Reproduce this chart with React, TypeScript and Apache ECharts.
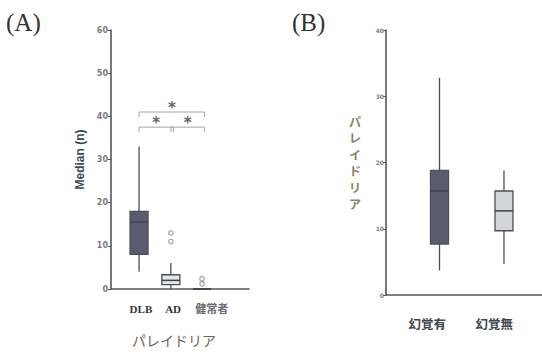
import React, { useEffect, useRef } from 'react';
import * as echarts from 'echarts';

// ---------- data ----------
const groupsA = ['DLB', 'AD', '健常者'];
// [min, Q1, median, Q3, max]
const boxA = [
  [4, 8, 15.5, 18, 33],
  [0, 1, 2, 3.3, 6],
  [0, 0, 0, 0, 0],
];
// [groupIndex, value]
const outliersA = [
  [1, 11],
  [1, 13],
  [2, 1.2],
  [2, 2.4],
];
// [fromGroup, toGroup, level]
const bracketsA = [
  [0, 2, 41],
  [0, 1, 37.5],
  [1, 2, 37.5],
];
const yMaxA = 60;
const yStepA = 10;

const groupsB = ['幻覚有', '幻覚無'];
const boxB = [
  [3.7, 7.7, 15.7, 18.8, 32.8],
  [4.7, 9.7, 12.7, 15.7, 18.8],
];
const yMaxB = 40;
const yStepB = 10;

// ---------- layout (not data) ----------
const posA = [0.89, 1.9, 2.89];
const labelPosA = [0.95, 1.97, 3.2];
const posB = [0.83, 1.83];
const labelPosB = [0.64, 1.68];
const boxFill = ['#595c6e', '#e4e6ec', '#e4e6ec'];
const boxFillB = ['#595c6e', '#d3d5db'];

function boxRender(widthPx: number, fills: string[]) {
  return (params: any, api: any) => {
    const x = api.value(0);
    const pMin = api.coord([x, api.value(1)]);
    const pQ1 = api.coord([x, api.value(2)]);
    const pMed = api.coord([x, api.value(3)]);
    const pQ3 = api.coord([x, api.value(4)]);
    const pMax = api.coord([x, api.value(5)]);
    const cx = pMed[0];
    const h = widthPx / 2;
    const stroke = '#4d4f58';
    return {
      type: 'group',
      children: [
        { type: 'line', shape: { x1: cx, y1: pMax[1], x2: cx, y2: pQ3[1] }, style: { stroke, lineWidth: 1.3 } },
        { type: 'line', shape: { x1: cx, y1: pQ1[1], x2: cx, y2: pMin[1] }, style: { stroke, lineWidth: 1.3 } },
        {
          type: 'rect',
          shape: { x: cx - h, y: pQ3[1], width: widthPx, height: pQ1[1] - pQ3[1] },
          style: { fill: fills[params.dataIndex], stroke, lineWidth: 1.3 },
        },
        { type: 'line', shape: { x1: cx - h, y1: pMed[1], x2: cx + h, y2: pMed[1] }, style: { stroke: '#3f414a', lineWidth: 1.5 } },
      ],
    };
  };
}

function labelRender(names: string[], dy: number, font: string, colors: string[]) {
  return (params: any, api: any) => {
    const p = api.coord([api.value(0), 0]);
    return {
      type: 'text',
      x: p[0],
      y: p[1] + dy,
      style: {
        text: names[params.dataIndex],
        fill: colors[params.dataIndex],
        font,
        align: 'center',
        verticalAlign: 'middle',
        textAlign: 'center',
        textVerticalAlign: 'middle',
      },
    };
  };
}

function bracketRender(params: any, api: any) {
  const a = api.coord([api.value(0), api.value(2)]);
  const b = api.coord([api.value(1), api.value(2)]);
  const drop = 5;
  return {
    type: 'polyline',
    shape: { points: [[a[0], a[1] + drop], [a[0], a[1]], [b[0], b[1]], [b[0], b[1] + drop]] },
    style: { stroke: '#a6a6aa', lineWidth: 1, fill: 'none' },
  };
}

function starRender(params: any, api: any) {
  const a = api.coord([api.value(0), api.value(2)]);
  const b = api.coord([api.value(1), api.value(2)]);
  return {
    type: 'text',
    x: (a[0] + b[0]) / 2,
    y: a[1] + 3,
    style: {
      text: '*',
      fill: '#666666',
      font: 'bold 15px "DejaVu Sans"',
      align: 'center',
      verticalAlign: 'bottom',
      textAlign: 'center',
      textVerticalAlign: 'bottom',
    },
  };
}

export default function App() {
  const ref = useRef<HTMLDivElement>(null);
  useEffect(() => {
    if (!ref.current) return;
    const chart = echarts.init(ref.current, undefined, { renderer: 'svg' });
    const axisColor = '#55565c';
    const bracketData = bracketsA.map((b) => [posA[b[0]], posA[b[1]] + 0.08, b[2]]);
    const option: any = {
      animation: false,
      backgroundColor: '#ffffff',
      graphic: [
        { type: 'text', left: 6, top: 10, style: { text: '(A)', fill: '#333', font: '25px "Liberation Serif"' } },
        { type: 'text', left: 292, top: 10, style: { text: '(B)', fill: '#333', font: '25px "Liberation Serif"' } },
      ],
      grid: [
        { left: 111, top: 30, width: 138, height: 270 },
        { left: 386, top: 30, width: 160, height: 265 },
      ],
      xAxis: [
        {
          gridIndex: 0,
          type: 'value',
          min: 0,
          max: 4.38,
          axisLine: { show: true, onZero: false, lineStyle: { color: axisColor, width: 1.6 } },
          axisTick: { show: false },
          axisLabel: { show: false },
          splitLine: { show: false },
          name: 'パレイドリア',
          nameLocation: 'middle',
          nameGap: 44,
          nameTextStyle: {
            fontSize: 14,
            color: '#6e6553',
            fontFamily: '"Noto Sans CJK JP"',
            padding: [0, 12, 0, 0],
          },
        },
        {
          gridIndex: 1,
          type: 'value',
          min: 0,
          max: 2.42,
          axisLine: { show: true, onZero: false, lineStyle: { color: axisColor, width: 1.6 } },
          axisTick: { show: false },
          axisLabel: { show: false },
          splitLine: { show: false },
        },
      ],
      yAxis: [
        {
          gridIndex: 0,
          type: 'value',
          min: 0,
          max: yMaxA,
          interval: yStepA,
          axisLine: { show: true, lineStyle: { color: axisColor, width: 1.6 } },
          axisTick: { show: true, length: 3, lineStyle: { color: axisColor } },
          axisLabel: { fontSize: 8, fontWeight: 'bold', color: '#7a7a80', margin: 3, fontFamily: '"DejaVu Sans"' },
          splitLine: { show: false },
          name: 'Median (n)',
          nameLocation: 'middle',
          nameRotate: 90,
          nameGap: 25,
          nameTextStyle: {
            fontSize: 12,
            fontWeight: 'bold',
            color: '#3e4659',
            fontFamily: '"Liberation Sans"',
          },
        },
        {
          gridIndex: 1,
          type: 'value',
          min: 0,
          max: yMaxB,
          interval: yStepB,
          axisLine: { show: true, lineStyle: { color: axisColor, width: 1.6 } },
          axisTick: { show: true, length: 3, lineStyle: { color: axisColor } },
          axisLabel: { fontSize: 6, fontWeight: 'bold', color: '#7e7e84', margin: 2, fontFamily: '"DejaVu Sans"' },
          splitLine: { show: false },
          name: 'パレイドリア'.split('').join('\n'),
          nameLocation: 'middle',
          nameRotate: 0,
          nameGap: 25,
          nameTextStyle: {
            fontSize: 12,
            lineHeight: 16.5,
            fontWeight: 'bold',
            color: '#8b7f63',
            fontFamily: '"Noto Sans CJK JP"',
          },
        },
      ],
      series: [
        {
          type: 'custom',
          xAxisIndex: 0,
          yAxisIndex: 0,
          renderItem: boxRender(18, boxFill),
          encode: { x: 0, y: [1, 2, 3, 4, 5] },
          data: boxA.map((b, i) => [posA[i], ...b]),
          z: 3,
        },
        {
          type: 'scatter',
          xAxisIndex: 0,
          yAxisIndex: 0,
          symbol: 'circle',
          symbolSize: 4.5,
          itemStyle: { color: '#ffffff', borderColor: '#8a8a92', borderWidth: 1.2 },
          data: outliersA.map((o) => [posA[o[0]], o[1]]),
          z: 4,
        },
        {
          type: 'custom',
          xAxisIndex: 0,
          yAxisIndex: 0,
          renderItem: bracketRender,
          encode: { x: [0, 1], y: 2 },
          data: bracketData,
          z: 3,
        },
        {
          type: 'custom',
          xAxisIndex: 0,
          yAxisIndex: 0,
          renderItem: starRender,
          encode: { x: [0, 1], y: 2 },
          data: bracketData,
          z: 3,
        },
        {
          type: 'custom',
          xAxisIndex: 0,
          yAxisIndex: 0,
          renderItem: labelRender(groupsA, 20, 'bold 11px "Liberation Serif", "Noto Sans CJK JP"', ['#333', '#333', '#6a6a70']),
          encode: { x: 0, y: 1 },
          data: groupsA.map((_, i) => [labelPosA[i], 0]),
          z: 3,
        },
        {
          type: 'custom',
          xAxisIndex: 1,
          yAxisIndex: 1,
          renderItem: boxRender(18, boxFillB),
          encode: { x: 0, y: [1, 2, 3, 4, 5] },
          data: boxB.map((b, i) => [posB[i], ...b]),
          z: 3,
        },
        {
          type: 'custom',
          xAxisIndex: 1,
          yAxisIndex: 1,
          renderItem: labelRender(groupsB, 28, 'bold 12.5px "Noto Sans CJK JP"', ['#3e4450', '#3e4450']),
          encode: { x: 0, y: 1 },
          data: groupsB.map((_, i) => [labelPosB[i], 0]),
          z: 3,
        },
      ],
    };
    chart.setOption(option);
    return () => chart.dispose();
  }, []);
  return (
    <div
      ref={ref}
      style={{ position: 'fixed', left: 0, top: 0, width: 542, height: 352, background: '#fff' }}
    />
  );
}
